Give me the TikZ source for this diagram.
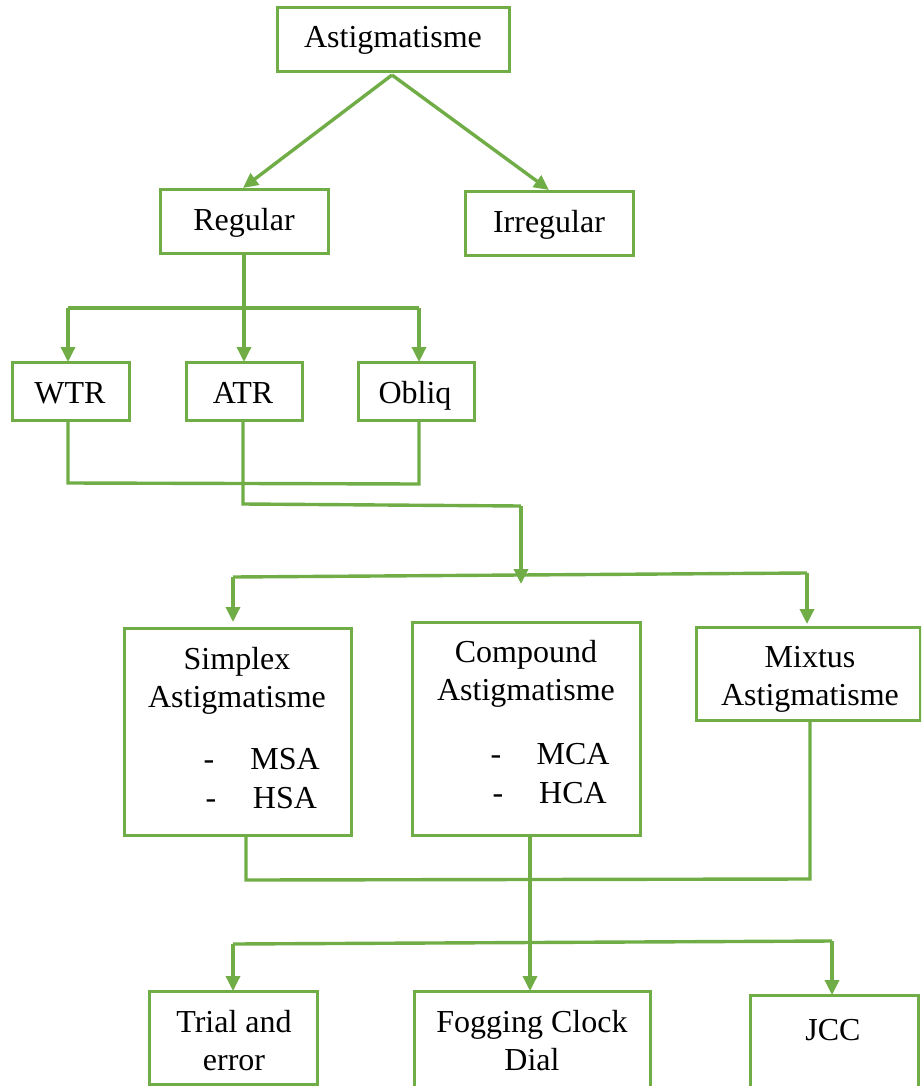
\documentclass[tikz,border=0pt]{standalone}
\usepackage{fontspec}
\setmainfont{Liberation Serif}
\usetikzlibrary{arrows.meta}
\definecolor{gr}{HTML}{70AD47}
\begin{document}
\begin{tikzpicture}[x=1pt,y=-1pt,
  box/.style={draw=gr,line width=3pt,inner sep=0pt,outer sep=0pt},
  txt/.style={inner sep=0pt,align=center,anchor=base,font=\fontsize{32}{38}\selectfont},
  conn/.style={draw=gr,line width=3.4pt},
  arr/.style={conn,-{Triangle[length=15pt,width=14pt]}}]
\useasboundingbox (0,0) rectangle (921,1086);
\begin{scope}
\clip (0,0) rectangle (921,1086);
% boxes
\node[box,minimum width=232pt,minimum height=64pt] (astig) at (393,40) {};
\node[box,minimum width=168pt,minimum height=63pt] (reg) at (244,221.5) {};
\node[box,minimum width=168pt,minimum height=63pt] (irr) at (549,223.5) {};
\node[box,minimum width=117pt,minimum height=58pt] (wtr) at (70.5,391) {};
\node[box,minimum width=116pt,minimum height=58pt] (atr) at (244,391) {};
\node[box,minimum width=116pt,minimum height=58pt] (obl) at (416,391) {};
\node[box,minimum width=227pt,minimum height=207pt] (simp) at (237.5,731.5) {};
\node[box,minimum width=228pt,minimum height=213pt] (comp) at (526,728.5) {};
\node[box,minimum width=224pt,minimum height=93pt] (mix) at (808,673.5) {};
\node[box,minimum width=168pt,minimum height=93pt] (trial) at (233,1037.5) {};
\node[box,minimum width=236pt,minimum height=130pt] (fog) at (532,1056) {};
\node[box,minimum width=168pt,minimum height=130pt] (jcc) at (834,1060) {};
\end{scope}
% texts (multi-line nodes: base = last line)
\node[txt] (tastig) at (393,48) {Astigmatisme};
\node[txt] (treg) at (244,230) {Regular};
\node[txt] (tirr) at (549,232) {Irregular};
\node[txt] (twtr) at (70,403) {WTR};
\node[txt] (tatr) at (243,403) {ATR};
\node[txt] (tobl) at (415,403) {Obliq};
\node[txt] (tsimp) at (237,707) {Simplex\\Astigmatisme};
\node[txt] (tmsa) at (285,769) {MSA};
\node[txt] (thsa) at (285,808) {HSA};
\node[txt] (dmsa) at (209,769) {-};
\node[txt] (dhsa) at (211,808) {-};
\node[txt] (tcomp) at (526,700) {Compound\\Astigmatisme};
\node[txt] (tmca) at (573,764) {MCA};
\node[txt] (thca) at (573,803) {HCA};
\node[txt] (dmca) at (496,764) {-};
\node[txt] (dhca) at (498,803) {-};
\node[txt] (tmix) at (810,705) {Mixtus\\Astigmatisme};
\node[txt] (ttrial) at (234,1070) {Trial and\\error};
\node[txt] (tfog) at (532,1070) {Fogging Clock\\Dial};
\node[txt] (tjcc) at (833,1040) {JCC};
% junction coordinates
\coordinate (a0) at (392,75);
\coordinate (wl) at (68,308);
\coordinate (wr) at (419,308);
\coordinate (b1) at (68,483);
\coordinate (b2) at (419,484);
\coordinate (c1) at (243,504);
\coordinate (c2) at (521,506);
\coordinate (c3) at (521,584);
\coordinate (d1) at (233,577);
\coordinate (d2) at (807,573);
\coordinate (e1) at (246,880);
\coordinate (e2) at (810,879);
\coordinate (e3) at (530,880);
\coordinate (f1) at (233,944);
\coordinate (f2) at (832,941);
% connectors
\draw[arr] (a0) -- (243,188);
\draw[arr] (a0) -- (549,190);
\draw[arr] (reg.south) -- (atr.north);
\draw[conn] (wl) -- (wr);
\draw[arr] (wl) -- (wtr.north -| wl);
\draw[arr] (wr) -- (obl.north -| wr);
\draw[conn] (wtr.south -| b1) -- (b1) -- (b2) -- (obl.south -| b2);
\draw[conn] (atr.south -| c1) -- (c1) -- (c2);
\draw[arr] (c2) -- (c3);
\draw[conn] (d1) -- (d2);
\draw[arr] (d1) -- (233,622);
\draw[arr] (d2) -- (807,624);
\draw[conn] (simp.south -| e1) -- (e1) -- (e2) -- (mix.south -| e2);
\draw[arr] (comp.south -| e3) -- (fog.north -| e3);
\draw[conn] (f1) -- (f2);
\draw[arr] (f1) -- (trial.north -| f1);
\draw[arr] (f2) -- (jcc.north -| f2);
\end{tikzpicture}
\end{document}
